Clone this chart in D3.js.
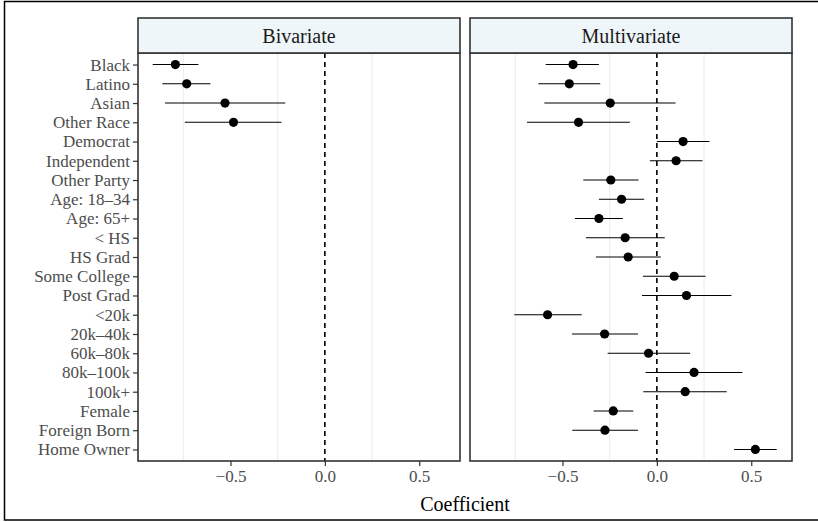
<!DOCTYPE html>
<html>
<head>
<meta charset="utf-8">
<script src="https://cdn.jsdelivr.net/npm/d3@7"></script>
<style>
  body { margin: 0; background: #fff; overflow: hidden; }
  svg, svg text { font-family: "Liberation Serif", "Times New Roman", Times, "DejaVu Serif", serif; }
</style>
</head>
<body>
<svg id="chart" width="818" height="522"></svg>
<script>
// row labels, top to bottom
const categories = ["Black", "Latino", "Asian", "Other Race", "Democrat", "Independent", "Other Party",
  "Age: 18\u201334", "Age: 65+", "< HS", "HS Grad", "Some College", "Post Grad", "<20k",
  "20k\u201340k", "60k\u201380k", "80k\u2013100k", "100k+", "Female", "Foreign Born", "Home Owner"];

// Bivariate model (only race terms)
const bivEst = [-0.792, -0.732, -0.529, -0.484, null, null, null, null, null, null, null, null, null, null, null, null, null, null, null, null, null];
const bivLo  = [-0.912, -0.861, -0.847, -0.742, null, null, null, null, null, null, null, null, null, null, null, null, null, null, null, null, null];
const bivHi  = [-0.670, -0.606, -0.210, -0.230, null, null, null, null, null, null, null, null, null, null, null, null, null, null, null, null, null];

// Multivariate model
const multEst = [-0.444, -0.464, -0.247, -0.415, 0.139, 0.102, -0.244, -0.187, -0.307, -0.168, -0.152, 0.092, 0.157, -0.579, -0.277, -0.044, 0.197, 0.150, -0.231, -0.275, 0.522];
const multLo  = [-0.589, -0.628, -0.596, -0.688, 0.000, -0.037, -0.390, -0.307, -0.434, -0.376, -0.323, -0.074, -0.079, -0.755, -0.450, -0.261, -0.060, -0.072, -0.335, -0.448, 0.409];
const multHi  = [-0.307, -0.300, 0.099, -0.143, 0.279, 0.242, -0.097, -0.067, -0.180, 0.042, 0.021, 0.258, 0.395, -0.398, -0.100, 0.176, 0.453, 0.370, -0.125, -0.100, 0.635];

const panels = ["Bivariate", "Multivariate"];
const xTicks = [-0.5, 0, 0.5];
const minorTicks = [-0.75, -0.25, 0.25];

const serif = '"Liberation Serif", "Times New Roman", Times, serif';
const svg = d3.select("#chart");

// outer frame (right edge falls outside the picture)
svg.append("rect").attr("x", 4.5).attr("y", 1.5).attr("width", 830).attr("height", 518.5)
  .attr("fill", "none").attr("stroke", "#000").attr("stroke-width", 1.5);

const panelX = [138, 470], panelW = 322;
const stripTop = 18, stripH = 35, plotTop = 53, plotBottom = 461;

const y = d3.scalePoint().domain(categories).range([plotTop, plotBottom]).padding(0.6);

function rows(est, lo, hi) {
  return categories.map((c, i) => ({ cat: c, est: est[i], lo: lo[i], hi: hi[i] })).filter(d => d.est !== null);
}
const panelData = [rows(bivEst, bivLo, bivHi), rows(multEst, multLo, multHi)];

panels.forEach((name, p) => {
  const x0 = panelX[p];
  const x = d3.scaleLinear().domain([-0.99, 0.716]).range([x0, x0 + panelW]);
  const g = svg.append("g");

  // minor grid
  g.selectAll(".grid").data(minorTicks).enter().append("line")
    .attr("x1", d => x(d)).attr("x2", d => x(d)).attr("y1", plotTop).attr("y2", plotBottom)
    .attr("stroke", "#ebebeb").attr("stroke-width", 1);

  // zero line
  g.append("line").attr("x1", x(0)).attr("x2", x(0)).attr("y1", plotTop).attr("y2", plotBottom)
    .attr("stroke", "#000").attr("stroke-width", 1.6).attr("stroke-dasharray", "5,4");

  // intervals + points
  const pts = panelData[p];
  g.selectAll(".ci").data(pts).enter().append("line")
    .attr("x1", d => x(d.lo)).attr("x2", d => x(d.hi)).attr("y1", d => y(d.cat)).attr("y2", d => y(d.cat))
    .attr("stroke", "#000").attr("stroke-width", 1.1);
  g.selectAll(".pt").data(pts).enter().append("circle")
    .attr("cx", d => x(d.est)).attr("cy", d => y(d.cat)).attr("r", 4.6).attr("fill", "#000");

  // panel border
  g.append("rect").attr("x", x0).attr("y", plotTop).attr("width", panelW).attr("height", plotBottom - plotTop)
    .attr("fill", "none").attr("stroke", "#333").attr("stroke-width", 1.6);

  // strip
  g.append("rect").attr("x", x0).attr("y", stripTop).attr("width", panelW).attr("height", stripH)
    .attr("fill", "#eff6f9").attr("stroke", "#333").attr("stroke-width", 1.6);
  g.append("text").attr("x", x0 + panelW / 2).attr("y", stripTop + stripH / 2 + 7)
    .attr("text-anchor", "middle").attr("font-size", 20).attr("fill", "#1a1a1a")
    .style("font-family", serif).text(name);

  // x axis
  const ax = g.append("g").attr("transform", `translate(0,${plotBottom})`)
    .call(d3.axisBottom(x).tickValues(xTicks).tickSize(5).tickPadding(4)
      .tickFormat(d => d === 0 ? "0.0" : d3.format(".1f")(d).replace("-", "\u2013")));
  ax.attr("font-family", null);
  ax.select(".domain").remove();
  ax.selectAll("line").attr("stroke", "#333").attr("stroke-width", 1.2);
  ax.selectAll("text").attr("fill", "#4d4d4d").attr("font-size", 17).style("font-family", serif);
});

// y axis on left panel
const ay = svg.append("g").attr("transform", `translate(${panelX[0]},0)`)
  .call(d3.axisLeft(y).tickSize(5).tickPadding(3));
ay.attr("font-family", null);
ay.select(".domain").remove();
ay.selectAll("line").attr("stroke", "#333").attr("stroke-width", 1.2);
ay.selectAll("text").attr("fill", "#4d4d4d").attr("font-size", 17).style("font-family", serif);

// x title
svg.append("text").attr("x", (panelX[0] + panelX[1] + panelW) / 2).attr("y", 511)
  .attr("text-anchor", "middle").attr("font-size", 20).attr("fill", "#000")
  .style("font-family", serif).text("Coefficient");
</script>
</body>
</html>
